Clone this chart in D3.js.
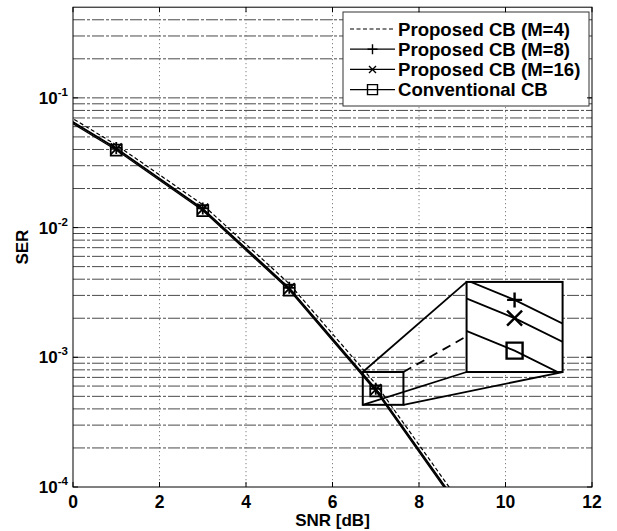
<!DOCTYPE html>
<html>
<head>
<meta charset="utf-8">
<script src="https://cdn.jsdelivr.net/npm/d3@7"></script>
<style>
  html, body { margin: 0; padding: 0; background: #fff; }
  svg { display: block; font-family: "Liberation Sans", Arial, sans-serif; font-weight: bold; }
</style>
</head>
<body>
<svg id="chart" width="617" height="531"></svg>
<script>
// SNR sample points (dB)
const snr = [-1, 1, 3, 5, 7, 9];
// Symbol error rate for each scheme
const serM4   = [0.110, 0.0434, 0.0150, 0.00369, 6.22e-4, 7.2e-5];
const serM8   = [0.1040, 0.0411, 0.01404, 0.00343, 5.72e-4, 6.6e-5];
const serM16  = [0.1027, 0.0405, 0.01385, 0.00338, 5.64e-4, 6.5e-5];
const serConv = [0.1007, 0.0396, 0.01352, 0.00330, 5.50e-4, 6.3e-5];
const seriesNames = ["Proposed CB (M=4)", "Proposed CB (M=8)", "Proposed CB (M=16)", "Conventional CB"];
const xTicks = [0, 2, 4, 6, 8, 10, 12];
const yTickExps = [-1, -2, -3, -4];
const xDomain = [0, 12];
const yDomain = [1e-4, 0.5];
// region highlighted on the curves and where its enlargement is placed
const zoomBoxX = [6.7, 7.64], zoomBoxY = [4.3e-4, 7.7e-4];
const insetBoxX = [9.1, 11.32], insetBoxY = [7.7e-4, 3.81e-3];
// data window shown inside the enlargement
const insetViewX = [6.983, 7.017], insetViewY = [5.41e-4, 5.80e-4];

const svg = d3.select("#chart");
const L = 73, R = 592, T = 7.2, B = 487;
const x = d3.scaleLinear().domain(xDomain).range([L, R]);
const y = d3.scaleLog().domain(yDomain).range([B, T]);

const defs = svg.append("defs");
defs.append("clipPath").attr("id", "plotClip")
  .append("rect").attr("x", L).attr("y", T).attr("width", R - L).attr("height", B - T);

// grid
const gridG = svg.append("g");
const yGrid = y.ticks().filter(v => v > yDomain[0] * 1.0001 && v < yDomain[1] * 0.9999);
gridG.selectAll("line.hg").data(yGrid).join("line")
  .attr("x1", L).attr("x2", R).attr("y1", d => y(d)).attr("y2", d => y(d))
  .attr("stroke", "#4a4a4a").attr("stroke-width", 1).attr("stroke-dasharray", "12,2,3,2");
gridG.selectAll("line.vg").data(xTicks.slice(1, -1)).join("line")
  .attr("x1", d => x(d)).attr("x2", d => x(d)).attr("y1", T).attr("y2", B)
  .attr("stroke", "#666").attr("stroke-width", 1).attr("stroke-dasharray", "1,3");

// marker shapes
function plusPath(cx, cy, s) { return `M${cx - s},${cy}H${cx + s}M${cx},${cy - s}V${cy + s}`; }
function crossPath(cx, cy, s) { return `M${cx - s},${cy - s}L${cx + s},${cy + s}M${cx - s},${cy + s}L${cx + s},${cy - s}`; }
function squarePath(cx, cy, s) { return `M${cx - s},${cy - s}H${cx + s}V${cy + s}H${cx - s}Z`; }

const series = [
  { name: seriesNames[0], values: serM4, dash: "4,2.5", marker: null, width: 1.2 },
  { name: seriesNames[1], values: serM8, dash: null, marker: plusPath, width: 1.3 },
  { name: seriesNames[2], values: serM16, dash: null, marker: crossPath, width: 1.3 },
  { name: seriesNames[3], values: serConv, dash: null, marker: squarePath, width: 1.3 }
];

// curves
const curveG = svg.append("g").attr("clip-path", "url(#plotClip)");
const line = d3.line().x(d => x(d[0])).y(d => y(d[1]));
series.forEach(s => {
  const pts = snr.map((v, i) => [v, s.values[i]]);
  curveG.append("path").attr("d", line(pts)).attr("fill", "none")
    .attr("stroke", "#000").attr("stroke-width", s.width)
    .attr("stroke-dasharray", s.dash);
  if (s.marker) {
    const sz = s.marker === plusPath ? 6 : 5.5;
    pts.filter(p => p[0] >= xDomain[0] && p[0] <= xDomain[1]).forEach(p => {
      curveG.append("path").attr("d", s.marker(x(p[0]), y(p[1]), sz))
        .attr("fill", "none").attr("stroke", "#000").attr("stroke-width", 1.8);
    });
  }
});

// enlargement: connectors, box and its content
const zx0 = x(zoomBoxX[0]), zx1 = x(zoomBoxX[1]), zy0 = y(zoomBoxY[1]), zy1 = y(zoomBoxY[0]);
const ix0 = x(insetBoxX[0]), ix1 = x(insetBoxX[1]), iy0 = y(insetBoxY[1]), iy1 = y(insetBoxY[0]);
const conn = svg.append("g").attr("stroke", "#000").attr("stroke-width", 1.8).attr("fill", "none");
conn.append("line").attr("x1", zx1).attr("y1", zy0).attr("x2", ix1).attr("y2", iy0)
  .attr("stroke-dasharray", "9,6");
conn.append("line").attr("x1", zx0).attr("y1", zy0).attr("x2", ix0).attr("y2", iy0);
conn.append("line").attr("x1", zx0).attr("y1", zy1).attr("x2", ix0).attr("y2", iy1);
conn.append("line").attr("x1", zx1).attr("y1", zy1).attr("x2", ix1).attr("y2", iy1);

svg.append("rect").attr("x", ix0).attr("y", iy0).attr("width", ix1 - ix0).attr("height", iy1 - iy0)
  .attr("fill", "#fff").attr("stroke", "none");

defs.append("clipPath").attr("id", "insetClip")
  .append("rect").attr("x", ix0).attr("y", iy0).attr("width", ix1 - ix0).attr("height", iy1 - iy0);
const xi = d3.scaleLinear().domain(insetViewX).range([ix0, ix1]);
const yi = d3.scaleLog().domain(insetViewY).range([iy1, iy0]);
const insetG = svg.append("g").attr("clip-path", "url(#insetClip)");
const lineI = d3.line().x(d => xi(d[0])).y(d => yi(d[1]));
series.forEach(s => {
  const pts = snr.map((v, i) => [v, s.values[i]]);
  insetG.append("path").attr("d", lineI(pts)).attr("fill", "none")
    .attr("stroke", "#000").attr("stroke-width", 1.8).attr("stroke-dasharray", s.dash);
  if (s.marker) {
    const sz = s.marker === squarePath ? 8 : 7.5;
    pts.forEach(p => {
      insetG.append("path").attr("d", s.marker(xi(p[0]), yi(p[1]), sz))
        .attr("fill", "none").attr("stroke", "#000").attr("stroke-width", 2.4);
    });
  }
});
svg.append("rect").attr("x", ix0).attr("y", iy0).attr("width", ix1 - ix0).attr("height", iy1 - iy0)
  .attr("fill", "none").attr("stroke", "#000").attr("stroke-width", 2);
svg.append("rect").attr("x", zx0).attr("y", zy0).attr("width", zx1 - zx0).attr("height", zy1 - zy0)
  .attr("fill", "none").attr("stroke", "#000").attr("stroke-width", 2);

// legend
const lg = svg.append("g");
const lgX = 343, lgY = 12, lgW = 246, lgH = 94;
lg.append("rect").attr("x", lgX).attr("y", lgY).attr("width", lgW).attr("height", lgH)
  .attr("fill", "#fff").attr("stroke", "#333").attr("stroke-width", 1);
series.forEach((s, i) => {
  const cy = 29 + i * 20.2;
  lg.append("line").attr("x1", 350).attr("x2", 395).attr("y1", cy).attr("y2", cy)
    .attr("stroke", "#000").attr("stroke-width", s.width).attr("stroke-dasharray", s.dash);
  if (s.marker) {
    lg.append("path").attr("d", s.marker(372.5, cy, s.marker === crossPath ? 3.5 : 5))
      .attr("fill", "none").attr("stroke", "#000").attr("stroke-width", 1.4);
  }
  lg.append("text").attr("x", 398).attr("y", cy + 6.5).attr("font-size", 18.6)
    .text(s.name);
});

// axes frame and ticks
const ax = svg.append("g").attr("stroke", "#000").attr("fill", "none");
ax.append("rect").attr("x", L).attr("y", T).attr("width", R - L).attr("height", B - T).attr("stroke-width", 1);
xTicks.forEach(t => {
  ax.append("line").attr("x1", x(t)).attr("x2", x(t)).attr("y1", B).attr("y2", B - 5);
  ax.append("line").attr("x1", x(t)).attr("x2", x(t)).attr("y1", T).attr("y2", T + 5);
});
yTickExps.forEach(e => {
  const v = Math.pow(10, e);
  ax.append("line").attr("x1", L).attr("x2", L + 5).attr("y1", y(v)).attr("y2", y(v));
  ax.append("line").attr("x1", R).attr("x2", R - 5).attr("y1", y(v)).attr("y2", y(v));
});

// tick labels
svg.append("g").selectAll("text").data(xTicks).join("text")
  .attr("x", d => x(d)).attr("y", 508).attr("text-anchor", "middle").attr("font-size", 17.5)
  .text(d => d);
const yl = svg.append("g").selectAll("text").data(yTickExps).join("text")
  .attr("x", 68).attr("y", d => y(Math.pow(10, d)) + 6).attr("text-anchor", "end").attr("font-size", 17);
yl.append("tspan").text("10");
yl.append("tspan").attr("dy", -8).attr("font-size", 11.5).text(d => String(d));

// axis titles
svg.append("text").attr("x", (L + R) / 2).attr("y", 526).attr("text-anchor", "middle")
  .attr("font-size", 17).text("SNR [dB]");
svg.append("text").attr("transform", `translate(28,${(T + B) / 2}) rotate(-90)`)
  .attr("text-anchor", "middle").attr("font-size", 17).text("SER");
</script>
</body>
</html>
